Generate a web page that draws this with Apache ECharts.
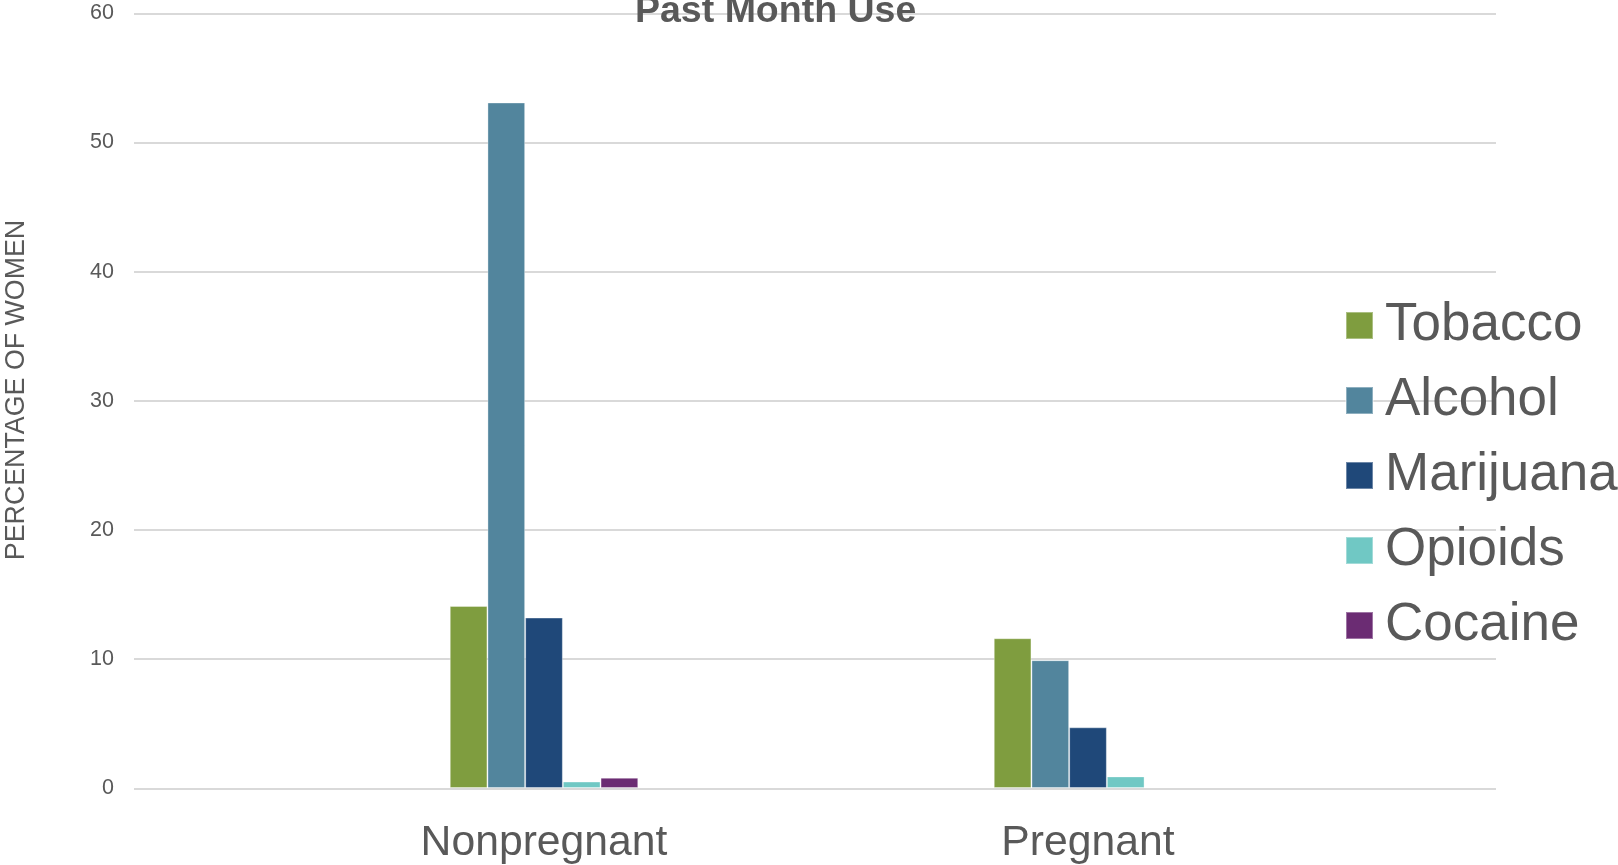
<!DOCTYPE html>
<html>
<head>
<meta charset="utf-8">
<script src="https://cdn.jsdelivr.net/npm/echarts@6/dist/echarts.min.js"></script>
<style>
  html, body { margin: 0; padding: 0; background: #fff; }
  #chart { width: 1618px; height: 865px; }
</style>
</head>
<body>
<div id="chart"></div>
<script>
// data
const groups = ['Nonpregnant', 'Pregnant'];
const tobacco = [14.1, 11.6];
const alcohol = [53.1, 9.9];
const marijuana = [13.2, 4.7];
const opioids = [0.5, 0.9];
const cocaine = [0.8, null];
const yTicks = { min: 0, max: 60, step: 10 };

const FONT = 'Liberation Sans, Arial, sans-serif';
const GREY = '#595959';

const seriesDefs = [
  { name: 'Tobacco', data: tobacco, color: '#7f9d3f' },
  { name: 'Alcohol', data: alcohol, color: '#52859d' },
  { name: 'Marijuana', data: marijuana, color: '#1f4879' },
  { name: 'Opioids', data: opioids, color: '#70c8c4' },
  { name: 'Cocaine', data: cocaine, color: '#6b2c73' }
];

const chart = echarts.init(document.getElementById('chart'));

chart.setOption({
  animation: false,
  backgroundColor: '#fff',
  title: {
    text: 'Past Month Use',
    left: 630,
    top: -12,
    textStyle: { fontFamily: FONT, fontSize: 37.5, fontWeight: 'bold', color: GREY }
  },
  legend: {
    orient: 'vertical',
    left: 1345,
    top: 299,
    padding: 0,
    itemWidth: 27,
    itemHeight: 27,
    itemGap: 22,
    icon: 'rect',
    textStyle: { fontFamily: FONT, fontSize: 53, color: GREY, padding: [0, 0, 0, 7] },
    data: seriesDefs.map(s => s.name)
  },
  graphic: [{
    type: 'text',
    x: 16.5,
    y: 390,
    rotation: Math.PI / 2,
    style: {
      text: 'PERCENTAGE OF WOMEN',
      fontFamily: FONT,
      fontSize: 26.8,
      fill: GREY,
      align: 'center',
      verticalAlign: 'middle'
    }
  }],
  grid: [
    // grid that holds the bars
    { left: 272, right: 258, top: 13.4, bottom: 76.6 },
    // wider grid only for gridlines and tick labels
    { left: 134, right: 122, top: 13.4, bottom: 76.6 }
  ],
  xAxis: [
    {
      type: 'category',
      gridIndex: 0,
      data: groups,
      axisLine: { show: false },
      axisTick: { show: false },
      axisLabel: { fontFamily: FONT, fontSize: 42.7, color: GREY, margin: 34 }
    },
    { type: 'value', gridIndex: 1, min: 0, max: 1, show: false }
  ],
  yAxis: [
    {
      type: 'value', gridIndex: 0,
      min: yTicks.min, max: yTicks.max, interval: yTicks.step,
      show: false
    },
    {
      type: 'value', gridIndex: 1,
      min: yTicks.min, max: yTicks.max, interval: yTicks.step,
      axisLine: { show: false },
      axisTick: { show: false },
      axisLabel: { fontFamily: FONT, fontSize: 21.5, color: GREY, margin: 20 },
      splitLine: { lineStyle: { color: '#d9d9d9', width: 2 } }
    }
  ],
  series: seriesDefs.map(s => ({
    name: s.name,
    type: 'bar',
    xAxisIndex: 0,
    yAxisIndex: 0,
    data: s.data,
    barWidth: 37.7,
    barGap: '0%',
    itemStyle: { color: s.color, borderColor: 'rgba(255,255,255,0.35)', borderWidth: 1 }
  }))
});

window.addEventListener('resize', () => chart.resize());
</script>
</body>
</html>
